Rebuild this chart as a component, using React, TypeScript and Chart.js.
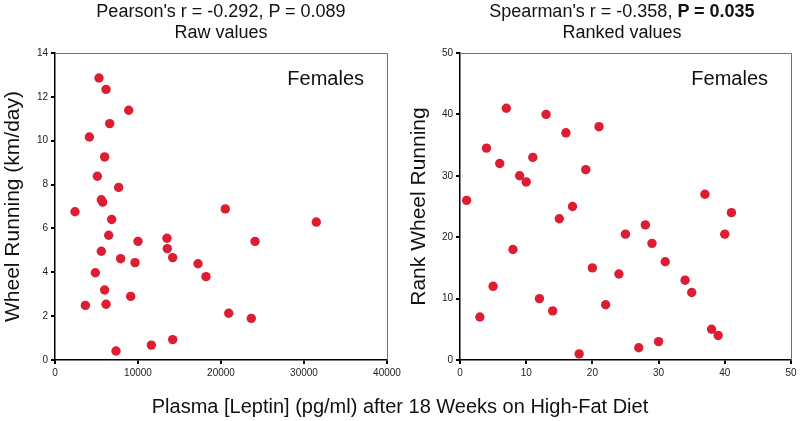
import React, { useEffect, useRef } from 'react';
import { Chart, registerables } from 'chart.js';

Chart.register(...registerables);

// ---- Data ----
const leptinRaw = [
  5300, 6150, 8880, 6590, 4140, 5980, 5100, 7670, 5580, 5740, 2410, 6830, 6470, 10000, 13490,
  13530, 14180, 5580, 7910, 9640, 17230, 18190, 4860, 5980, 6150, 3660, 9120, 7350, 11610, 14180,
  20520, 31480, 24100, 20930, 23650,
];
const wheelRaw = [
  12.86, 12.34, 11.39, 10.78, 10.17, 9.26, 8.38, 7.87, 7.31, 7.2, 6.76, 6.41, 5.69, 5.41, 5.55,
  5.08, 4.67, 4.96, 4.62, 4.44, 4.39, 3.8, 3.98, 3.19, 2.54, 2.49, 2.9, 0.41, 0.68, 0.93,
  6.89, 6.29, 5.41, 2.13, 1.9,
];
const leptinRank = [
  1, 3, 4, 5, 6, 7, 8, 9, 10, 11, 12, 13, 14, 15, 16, 17, 18, 19, 20, 21, 22, 24, 25, 27, 28, 29,
  30, 31, 34, 35, 37, 38, 39, 40, 41,
];
const wheelRank = [
  26, 7, 34.5, 12, 32, 41, 18, 30, 29, 33, 10, 40, 8, 23, 37, 25, 1, 31, 15, 38, 9, 14, 20.5, 2,
  22, 19, 3, 16, 13, 11, 27, 5, 4, 20.5, 24,
];

const leftTitle = "Pearson's r = -0.292, P = 0.089";
const leftSubtitle = 'Raw values';
const rightTitleA = "Spearman's r = -0.358, ";
const rightTitleB = 'P = 0.035';
const rightSubtitle = 'Ranked values';
const groupLabel = 'Females';
const leftYTitle = 'Wheel Running (km/day)';
const rightYTitle = 'Rank Wheel Running';
const xTitle = 'Plasma [Leptin] (pg/ml) after 18 Weeks on High-Fat Diet';

const FONT = '"Liberation Sans", Arial, Helvetica, sans-serif';
const DOT = 'rgb(221, 30, 50)';

const framePlugin = {
  id: 'frameAndLabel',
  afterDraw(chart: any, _args: any, opts: any) {
    const { ctx, chartArea } = chart;
    const { left, top, right, bottom } = chartArea;
    ctx.save();
    ctx.strokeStyle = '#6e6e6e';
    ctx.lineWidth = 1;
    ctx.beginPath();
    ctx.moveTo(left, top + 0.5);
    ctx.lineTo(right + 0.5, top + 0.5);
    ctx.lineTo(right + 0.5, bottom);
    ctx.stroke();
    ctx.fillStyle = '#111';
    ctx.font = `20px ${FONT}`;
    ctx.textAlign = 'right';
    ctx.textBaseline = 'middle';
    ctx.fillText(opts.label || '', right - 23, top + 26);
    ctx.restore();
  },
};

function makeConfig(
  xs: number[],
  ys: number[],
  xMax: number,
  xStep: number,
  yMax: number,
  yStep: number,
  yTitle: string,
  yWidth: number,
  padRight: number,
  titlePad: number
): any {
  const points = xs.map((x, i) => ({ x, y: ys[i] }));
  return {
    type: 'scatter',
    data: {
      datasets: [
        {
          data: points,
          backgroundColor: DOT,
          borderWidth: 0,
          pointRadius: 4.7,
          pointHoverRadius: 4.7,
        },
      ],
    },
    plugins: [framePlugin],
    options: {
      responsive: false,
      animation: false,
      events: [],
      layout: { padding: { top: 53, right: padRight, left: 0, bottom: 0 } },
      plugins: {
        legend: { display: false },
        tooltip: { enabled: false },
        frameAndLabel: { label: groupLabel },
      },
      scales: {
        x: {
          type: 'linear',
          min: 0,
          max: xMax,
          ticks: {
            stepSize: xStep,
            font: { size: 10, family: FONT },
            color: '#222',
            padding: 3,
            maxRotation: 0,
            callback: (v: any) => String(v),
          },
          grid: { drawOnChartArea: false, drawTicks: true, tickLength: 4, color: '#000', lineWidth: 2 },
          border: { color: '#000', width: 1.5 },
          afterFit(s: any) {
            s.height = 61;
            s.paddingLeft = 0;
            s.paddingRight = 0;
          },
        },
        y: {
          type: 'linear',
          min: 0,
          max: yMax,
          ticks: {
            stepSize: yStep,
            font: { size: 10, family: FONT },
            color: '#222',
            padding: 3,
            callback: (v: any) => String(v),
          },
          grid: { drawOnChartArea: false, drawTicks: true, tickLength: 4, color: '#000', lineWidth: 2 },
          border: { color: '#000', width: 1.5 },
          title: {
            display: true,
            text: yTitle,
            color: '#111',
            font: { size: 21, family: FONT, lineHeight: 1 },
            padding: { top: titlePad, bottom: 0 },
          },
          afterFit(s: any) {
            s.width = yWidth;
            s.paddingTop = 0;
            s.paddingBottom = 0;
          },
        },
      },
    },
  };
}

export default function App() {
  const leftRef = useRef<HTMLCanvasElement>(null);
  const rightRef = useRef<HTMLCanvasElement>(null);

  useEffect(() => {
    const c1 = new Chart(
      leftRef.current as HTMLCanvasElement,
      makeConfig(leptinRaw, wheelRaw, 40000, 10000, 14, 2, leftYTitle, 55, 33, 3)
    );
    const c2 = new Chart(
      rightRef.current as HTMLCanvasElement,
      makeConfig(leptinRank, wheelRank, 50, 10, 50, 10, rightYTitle, 60, 9, 9)
    );
    return () => {
      c1.destroy();
      c2.destroy();
    };
  }, []);

  const titleStyle: React.CSSProperties = {
    position: 'absolute',
    top: 1,
    width: 400,
    textAlign: 'center',
    fontFamily: FONT,
    fontSize: 18,
    lineHeight: '21px',
    color: '#111',
    whiteSpace: 'nowrap',
  };

  return (
    <div
      style={{
        position: 'fixed',
        left: 0,
        top: 0,
        width: 800,
        height: 421,
        background: '#fff',
        overflow: 'hidden',
      }}
    >
      <canvas
        ref={leftRef}
        width={420}
        height={421}
        style={{ position: 'absolute', left: 0, top: 0, width: 420, height: 421 }}
      />
      <canvas
        ref={rightRef}
        width={400}
        height={421}
        style={{ position: 'absolute', left: 400, top: 0, width: 400, height: 421 }}
      />
      <div style={{ ...titleStyle, left: 21 }}>
        <div>{leftTitle}</div>
        <div>{leftSubtitle}</div>
      </div>
      <div style={{ ...titleStyle, left: 422 }}>
        <div>
          {rightTitleA}
          <b>{rightTitleB}</b>
        </div>
        <div>{rightSubtitle}</div>
      </div>
      <div
        style={{
          position: 'absolute',
          left: 0,
          top: 395,
          width: 800,
          textAlign: 'center',
          fontFamily: FONT,
          fontSize: 20,
          lineHeight: '23px',
          color: '#111',
          whiteSpace: 'nowrap',
        }}
      >
        {xTitle}
      </div>
    </div>
  );
}
